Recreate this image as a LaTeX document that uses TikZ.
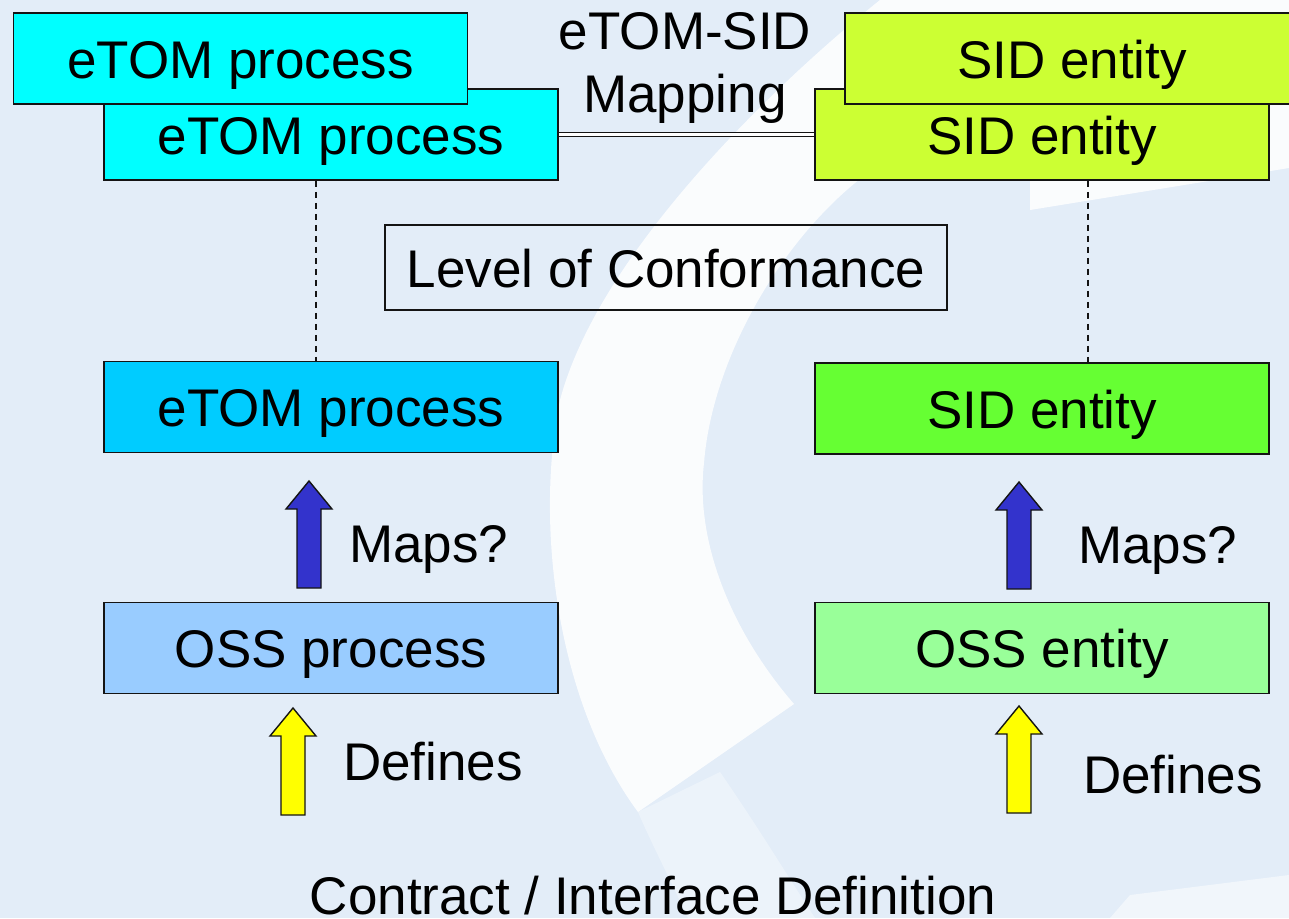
\documentclass[tikz,border=0pt]{standalone}
\usepackage{fontspec}
\setmainfont{Liberation Sans}
\definecolor{pageblue}{RGB}{227,237,248}
\definecolor{etomtop}{RGB}{0,255,255}
\definecolor{etommid}{RGB}{0,204,255}
\definecolor{ossproc}{RGB}{153,204,255}
\definecolor{sidtop}{RGB}{204,255,51}
\definecolor{sidmid}{RGB}{102,255,51}
\definecolor{ossent}{RGB}{153,255,153}
\definecolor{mapblue}{RGB}{51,51,204}
\definecolor{defyellow}{RGB}{255,255,0}
\definecolor{edge}{RGB}{20,20,20}
\begin{document}
\begin{tikzpicture}[x=1pt,y=-1pt,
  every node/.style={font=\fontsize{53}{63}\selectfont},
  box/.style={draw=edge, line width=1.8pt, minimum width=454pt, minimum height=91pt,
              inner sep=0pt, text height=39pt, text depth=0pt},
  link/.style={draw=edge, line width=1.2pt, dash pattern=on 6pt off 5pt},
  uparrow/.pic={\draw[draw=edge, line width=1.4pt, line join=miter, pic actions]
      (-12,0) -- (-12,-79) -- (-23,-79) -- (0,-107) -- (23,-79) -- (12,-79) -- (12,0) -- cycle;}
]
% page and backdrop
\useasboundingbox (0,0) rectangle (1289,918);
\clip (0,0) rectangle (1289,918);
\fill[pageblue] (0,0) rectangle (1289,918);
\fill[white, opacity=0.85] (880,0) .. controls (780,80) and (600,250) .. (560,400)
   .. controls (535,520) and (555,700) .. (638,812) -- (794,704)
   .. controls (730,630) and (695,540) .. (704,463)
   .. controls (712,360) and (780,240) .. (865,175)
   .. controls (920,140) and (980,135) .. (1030,138)
   -- (1030,210) -- (1289,168) -- (1289,0) -- cycle;
\fill[white, opacity=0.35] (638,812) -- (720,772) .. controls (760,830) and (790,880) .. (815,918)
   -- (688,918) .. controls (668,875) and (650,840) .. (638,812) -- cycle;
\fill[white, opacity=0.5] (1130,895) -- (1289,875) -- (1289,918) -- (1110,918) -- cycle;

% eTOM column
\node[box, fill=etomtop] (e2) at (331,134.5) {eTOM process};
\node[box, fill=etomtop] (e1) at (240.5,58.5) {eTOM process};
\node[box, fill=etommid] (em) at (331,407) {eTOM process};
\node[box, fill=ossproc] (op) at (331,648) {OSS process};

% SID column
\node[box, fill=sidtop] (s2) at (1042,134.5) {SID entity};
\node[box, fill=sidtop] (s1) at (1072,58.5) {SID entity};
\node[box, fill=sidmid] (sm) at (1042,408.5) {SID entity};
\node[box, fill=ossent] (oe) at (1042,648) {OSS entity};

% mapping between the frameworks
\draw[draw=edge, line width=1.3pt, double=white, double distance=2.6pt] (e2.east) -- (s2.west);
\node[align=center, anchor=base, inner sep=0pt] (maptxt) at (685,112) {eTOM-SID\\Mapping};

\node[draw=edge, line width=1.8pt, minimum width=562pt, minimum height=85pt, inner sep=0pt,
      text height=39pt, text depth=0pt] (loc) at (666,267.5) {Level of Conformance};

% conformance links
\coordinate (lx) at (316,0);
\coordinate (rx) at (1088,0);
\draw[link] (e2.south -| lx) -- (em.north -| lx);
\draw[link] (s2.south -| rx) -- (sm.north -| rx);

% block arrows
\pic[fill=mapblue] (mapsL) at (309,588) {uparrow};
\pic[fill=defyellow] (defL) at (293,815) {uparrow};
\pic[fill=mapblue] (mapsR) at (1019,589) {uparrow};
\pic[fill=defyellow] (defR) at (1019,813) {uparrow};

\node[anchor=base west, inner sep=0pt] (mapsLt) at (349,562) {Maps?};
\node[anchor=base west, inner sep=0pt] (defLt) at (343,780) {Defines};
\node[anchor=base west, inner sep=0pt] (mapsRt) at (1078,563) {Maps?};
\node[anchor=base west, inner sep=0pt] (defRt) at (1083,793) {Defines};

\node[anchor=base, inner sep=0pt] (contract) at (653,914) {Contract / Interface Definition};
\end{tikzpicture}
\end{document}
